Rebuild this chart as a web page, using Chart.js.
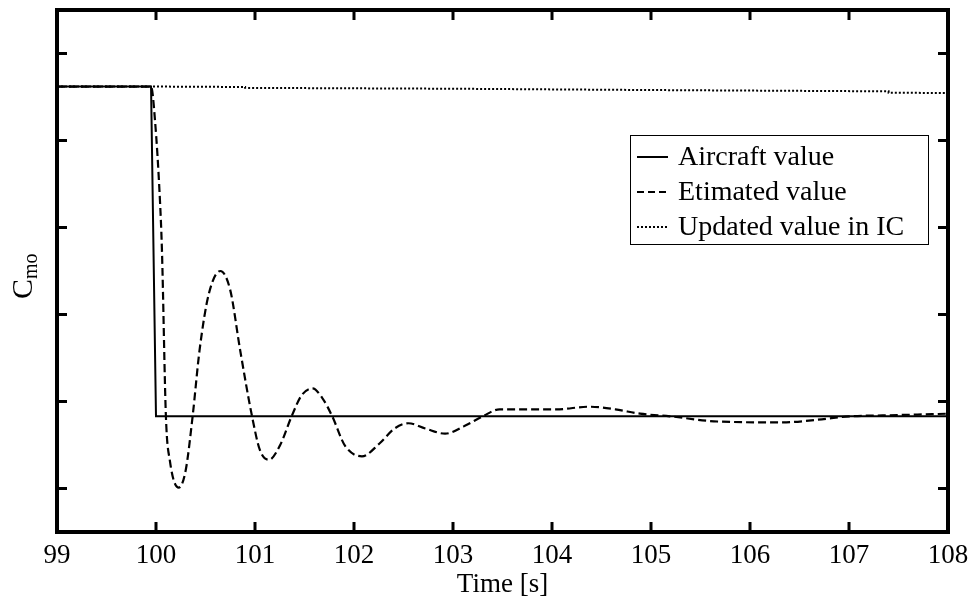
<!DOCTYPE html>
<html>
<head>
<meta charset="utf-8">
<script src="https://cdn.jsdelivr.net/npm/chart.js@4/dist/chart.umd.min.js"></script>
<style>
  html, body { margin: 0; padding: 0; background: #fff; }
  #wrap { width: 975px; height: 605px; }
</style>
</head>
<body>
<div id="wrap"><canvas id="cmo-chart" width="975" height="605"></canvas></div>
<script>
'use strict';

// tick positions
const xTicks = [99, 100, 101, 102, 103, 104, 105, 106, 107, 108];
const yTicks = [0, 1, 2, 3, 4, 5];

// aircraft value (step at t = 100 s)
const aircraftTime = [99, 99.95, 100.0, 108];
const aircraftValues = [4.62, 4.62, 0.83, 0.83];

// estimated value
const estimatedTime = [
  99, 99.95, 99.99, 100.04, 100.06, 100.10, 100.14, 100.23, 100.30, 100.37,
  100.44, 100.53, 100.65, 100.75, 100.85, 100.97, 101.05, 101.14, 101.25, 101.37,
  101.47, 101.58, 101.68, 101.78, 101.91, 102.08, 102.26, 102.41, 102.55, 102.72,
  102.92, 103.12, 103.30, 103.47, 104.04, 104.38, 104.64, 104.89, 105.19, 105.67,
  106.33, 106.68, 107.01, 107.34, 107.69, 108
];
const estimatedValues = [
  4.62, 4.62, 4.23, 3.31, 2.74, 0.83, 0.32, 0.01, 0.21, 0.83,
  1.59, 2.22, 2.50, 2.28, 1.59, 0.83, 0.44, 0.33, 0.49, 0.83,
  1.07, 1.15, 1.04, 0.83, 0.49, 0.37, 0.52, 0.69, 0.75, 0.69,
  0.63, 0.72, 0.83, 0.91, 0.91, 0.94, 0.91, 0.86, 0.83, 0.77,
  0.76, 0.79, 0.83, 0.84, 0.85, 0.86
];

// updated value in IC
const updatedTime = [99, 100, 100.9, 100.9, 103, 105, 107.4, 107.4, 108];
const updatedValues = [4.62, 4.62, 4.615, 4.605, 4.595, 4.58, 4.565, 4.55, 4.545];

const serif = '"Liberation Serif", "Times New Roman", serif';

function toPoints(xs, ys) {
  return xs.map((x, i) => ({ x, y: ys[i] }));
}

// frame with inward ticks on all four sides
const framePlugin = {
  id: 'frame',
  afterDatasetsDraw(chart) {
    const { ctx, chartArea: a, scales } = chart;
    ctx.save();
    ctx.strokeStyle = '#000';
    ctx.lineWidth = 3;
    ctx.beginPath();
    xTicks.slice(1, -1).forEach(v => {
      const px = scales.x.getPixelForValue(v);
      ctx.moveTo(px, a.bottom); ctx.lineTo(px, a.bottom - 10);
      ctx.moveTo(px, a.top); ctx.lineTo(px, a.top + 10);
    });
    yTicks.forEach(v => {
      const py = scales.y.getPixelForValue(v);
      ctx.moveTo(a.left, py); ctx.lineTo(a.left + 10, py);
      ctx.moveTo(a.right, py); ctx.lineTo(a.right - 10, py);
    });
    ctx.stroke();
    ctx.lineWidth = 4;
    ctx.strokeRect(a.left, a.top, a.right - a.left, a.bottom - a.top);
    ctx.restore();
  }
};

// y title with subscript: C_mo
const yTitlePlugin = {
  id: 'yTitle',
  afterDraw(chart) {
    const { ctx } = chart;
    ctx.save();
    ctx.translate(32, 299);
    ctx.rotate(-Math.PI / 2);
    ctx.fillStyle = '#000';
    ctx.textBaseline = 'alphabetic';
    ctx.textAlign = 'left';
    ctx.font = '30px ' + serif;
    ctx.fillText('C', 0, 0);
    const w = ctx.measureText('C').width;
    ctx.font = '20px ' + serif;
    ctx.fillText('mo', w, 5);
    ctx.restore();
  }
};

// boxed legend inside the plot area
const boxLegendPlugin = {
  id: 'boxLegend',
  afterDraw(chart) {
    const { ctx, chartArea: a } = chart;
    const right = a.right - 20, left = right - 298, top = 135, rowH = 35;
    const sets = chart.data.datasets;
    ctx.save();
    ctx.fillStyle = '#fff';
    ctx.fillRect(left, top, right - left, rowH * sets.length + 4);
    ctx.strokeStyle = '#000';
    ctx.lineWidth = 1;
    ctx.strokeRect(left + 0.5, top + 0.5, right - left, rowH * sets.length + 4);
    ctx.font = '28px ' + serif;
    ctx.textBaseline = 'middle';
    ctx.fillStyle = '#000';
    sets.forEach((ds, i) => {
      const y = top + 22 + i * rowH;
      ctx.beginPath();
      ctx.lineWidth = 2;
      ctx.setLineDash(ds.legendDash || []);
      ctx.moveTo(left + 7, y);
      ctx.lineTo(left + 38, y);
      ctx.stroke();
      ctx.setLineDash([]);
      ctx.fillText(ds.label, left + 48, y + 1);
    });
    ctx.restore();
  }
};

new Chart(document.getElementById('cmo-chart'), {
  type: 'line',
  data: {
    datasets: [
      {
        label: 'Aircraft value',
        data: toPoints(aircraftTime, aircraftValues),
        borderColor: '#000', borderWidth: 2, pointRadius: 0, tension: 0
      },
      {
        label: 'Etimated value',
        data: toPoints(estimatedTime, estimatedValues),
        borderColor: '#000', borderWidth: 2.2, borderDash: [8, 4], legendDash: [7, 4],
        pointRadius: 0, cubicInterpolationMode: 'monotone'
      },
      {
        label: 'Updated value in IC',
        data: toPoints(updatedTime, updatedValues),
        borderColor: '#000', borderWidth: 2, borderDash: [2, 2], legendDash: [2, 2],
        pointRadius: 0, tension: 0
      }
    ]
  },
  options: {
    responsive: false,
    animation: false,
    layout: { padding: { left: 57, top: 10, right: 27, bottom: 7 } },
    plugins: { legend: { display: false }, tooltip: { enabled: false } },
    scales: {
      x: {
        type: 'linear', min: 99, max: 108,
        afterBuildTicks: (s) => { s.ticks = xTicks.map(v => ({ value: v })); },
        // let the layout padding decide the plot edges, not the end labels
        afterFit: (s) => { s.paddingLeft = 0; s.paddingRight = 0; },
        grid: { display: false, drawTicks: false },
        border: { display: false },
        ticks: { color: '#000', padding: 10, maxRotation: 0, font: { family: serif, size: 27, lineHeight: 1.0 } },
        title: {
          display: true, text: 'Time [s]', color: '#000',
          font: { family: serif, size: 27, lineHeight: 1.0 }, padding: { top: -8, bottom: 0 }
        }
      },
      y: {
        type: 'linear', min: -0.5, max: 5.5, display: false
      }
    }
  },
  plugins: [framePlugin, yTitlePlugin, boxLegendPlugin]
});
</script>
</body>
</html>
